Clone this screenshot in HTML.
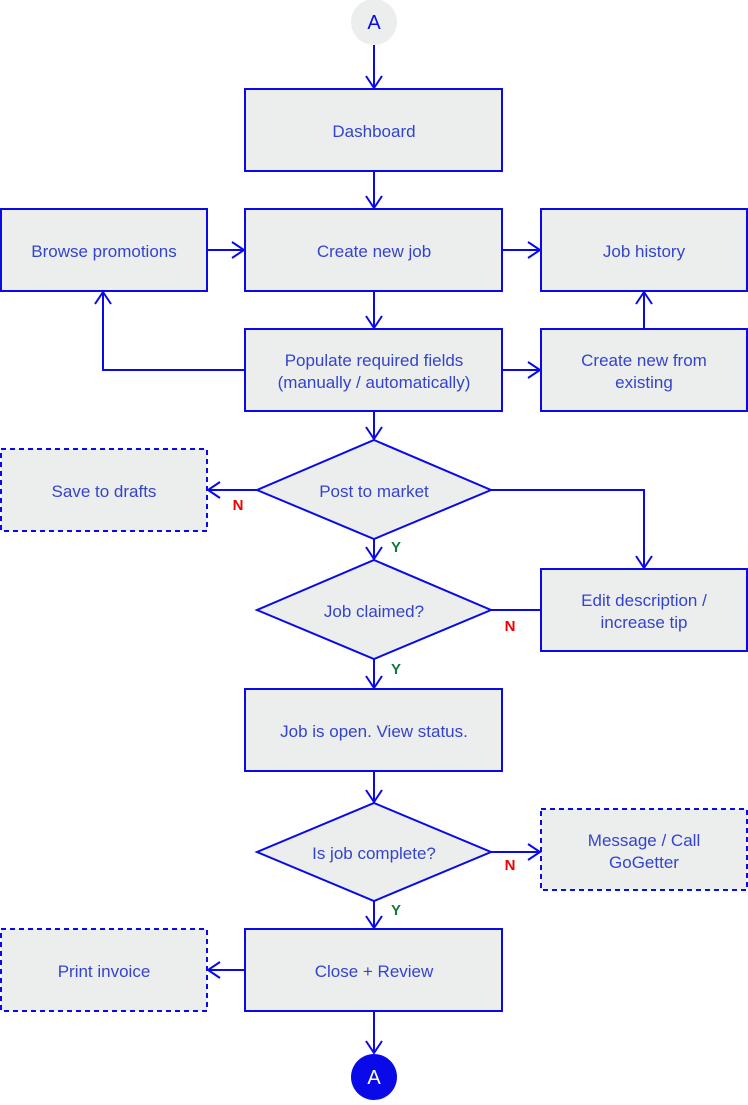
<!DOCTYPE html>
<html><head><meta charset="utf-8"><style>
body{margin:0;background:#fff;}
svg text{font-family:"Liberation Sans",sans-serif;}
</style></head><body>
<svg width="748" height="1100" viewBox="0 0 748 1100" xmlns="http://www.w3.org/2000/svg">
<defs>
<marker id="a" markerWidth="16" markerHeight="18" refX="13" refY="9" orient="auto" markerUnits="userSpaceOnUse">
<path d="M1,1 L13,9 L1,17" fill="none" stroke="#0a0ae8" stroke-width="2"/>
</marker>
</defs>
<g fill="#eceeee" stroke="#0a0ae8" stroke-width="2">
<circle cx="374" cy="22" r="23" fill="#eceeee" stroke="none"/>
<rect x="245" y="89" width="257" height="82"/>
<rect x="245" y="209" width="257" height="82"/>
<rect x="1" y="209" width="206" height="82"/>
<rect x="541" y="209" width="206" height="82"/>
<rect x="245" y="329" width="257" height="82"/>
<rect x="541" y="329" width="206" height="82"/>
<rect x="1" y="449" width="206" height="82" stroke-dasharray="5,4"/>
<polygon points="374,440 491,490 374,539 257,490"/>
<polygon points="374,560 491,610 374,659 257,610"/>
<rect x="541" y="569" width="206" height="82"/>
<rect x="245" y="689" width="257" height="82"/>
<polygon points="374,803 491,852 374,901 257,852"/>
<rect x="541" y="809" width="206" height="81" stroke-dasharray="5,4"/>
<rect x="245" y="929" width="257" height="82"/>
<rect x="1" y="929" width="206" height="82" stroke-dasharray="5,4"/>
<circle cx="374" cy="1077" r="23" fill="#0a0ae8" stroke="none"/>
</g>
<g fill="none" stroke="#0a0ae8" stroke-width="2" marker-end="url(#a)">
<line x1="374" y1="45" x2="374" y2="88"/>
<line x1="374" y1="171" x2="374" y2="208"/>
<line x1="207" y1="250" x2="244" y2="250"/>
<line x1="502" y1="250" x2="540" y2="250"/>
<line x1="374" y1="291" x2="374" y2="328"/>
<polyline points="245,370 103,370 103,292"/>
<line x1="502" y1="370" x2="540" y2="370"/>
<line x1="644" y1="329" x2="644" y2="292"/>
<line x1="374" y1="411" x2="374" y2="439"/>
<line x1="257" y1="490" x2="208" y2="490"/>
<polyline points="491,490 644,490 644,568"/>
<line x1="374" y1="539" x2="374" y2="559"/>
<line x1="374" y1="659" x2="374" y2="688"/>
<line x1="374" y1="771" x2="374" y2="802"/>
<line x1="491" y1="852" x2="540" y2="852"/>
<line x1="374" y1="901" x2="374" y2="928"/>
<line x1="245" y1="970" x2="208" y2="970"/>
<line x1="374" y1="1011" x2="374" y2="1053"/>
</g>
<line x1="491" y1="610" x2="541" y2="610" stroke="#0a0ae8" stroke-width="2"/>
<g fill="#3344cc" font-size="17" text-anchor="middle">
<text x="374" y="29" font-size="20" fill="#0a0ae8">A</text>
<text x="374" y="137">Dashboard</text>
<text x="374" y="257">Create new job</text>
<text x="104" y="257">Browse promotions</text>
<text x="644" y="257">Job history</text>
<text x="374" y="366">Populate required fields</text>
<text x="374" y="388">(manually / automatically)</text>
<text x="644" y="366">Create new from</text>
<text x="644" y="388">existing</text>
<text x="104" y="497">Save to drafts</text>
<text x="374" y="497">Post to market</text>
<text x="374" y="617">Job claimed?</text>
<text x="644" y="606">Edit description /</text>
<text x="644" y="628">increase tip</text>
<text x="374" y="737">Job is open. View status.</text>
<text x="374" y="859">Is job complete?</text>
<text x="644" y="846">Message / Call</text>
<text x="644" y="868">GoGetter</text>
<text x="374" y="977">Close + Review</text>
<text x="104" y="977">Print invoice</text>
<text x="374" y="1084" font-size="20" fill="#fff">A</text>
</g>
<g font-size="15" font-weight="bold" text-anchor="middle">
<text x="238" y="510" fill="#e00">N</text>
<text x="396" y="552" fill="#117a3a">Y</text>
<text x="510" y="631" fill="#e00">N</text>
<text x="396" y="674" fill="#117a3a">Y</text>
<text x="510" y="870" fill="#e00">N</text>
<text x="396" y="915" fill="#117a3a">Y</text>
</g>
</svg>
</body></html>
